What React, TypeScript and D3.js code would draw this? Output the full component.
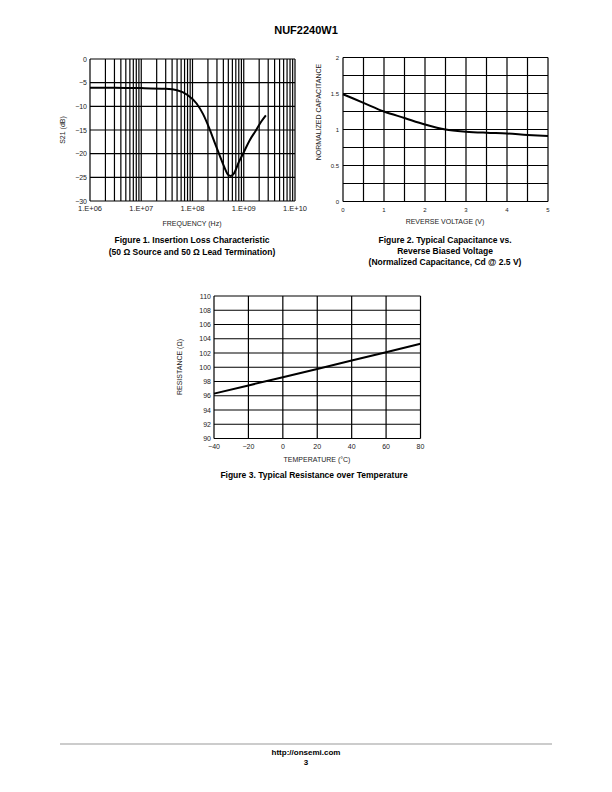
import React from "react";
import * as d3 from "d3";

// Figure 1 data
const freqHz = [1e6, 3e6, 1e7, 3e7, 5e7, 8e7, 1.2e8, 1.6e8, 2.1e8, 2.7e8, 3.4e8, 4.2e8, 5e8, 5.6e8, 6.5e8, 8e8, 1e9, 1.3e9, 1.7e9, 2.2e9, 2.7e9];
const s21dB = [-6.05, -6.1, -6.15, -6.3, -6.6, -7.6, -9.4, -11.6, -14.5, -17.6, -20.4, -22.9, -24.5, -24.7, -24.1, -21.8, -19.7, -17.2, -15.2, -13.2, -11.9];
const fig1XTicks = ["1.E+06", "1.E+07", "1.E+08", "1.E+09", "1.E+10"];
const fig1YTicks = [0, -5, -10, -15, -20, -25, -30];

// Figure 2 data
const reverseV = [0, 0.5, 1, 1.5, 2, 2.5, 3, 3.5, 4, 4.5, 5];
const normCap = [1.49, 1.37, 1.25, 1.16, 1.07, 1.0, 0.97, 0.955, 0.945, 0.925, 0.91];
const fig2XTicks = [0, 1, 2, 3, 4, 5];
const fig2YTicks = [0, 0.5, 1, 1.5, 2];

// Figure 3 data
const tempC = [-40, -20, 0, 20, 40, 60, 80];
const resOhm = [96.3, 97.45, 98.6, 99.75, 100.95, 102.1, 103.3];
const fig3XTicks = [-40, -20, 0, 20, 40, 60, 80];
const fig3YTicks = [90, 92, 94, 96, 98, 100, 102, 104, 106, 108, 110];

const FONT = "'Liberation Sans', Arial, Helvetica, sans-serif";
const fmt = (v: number) => (v < 0 ? "\u2212" + Math.abs(v) : String(v));
const INK = "#000";
const LABEL = "#222";

function Fig1() {
  const x = d3.scaleLog().domain([1e6, 1e10]).range([90, 295]);
  const y = d3.scaleLinear().domain([-30, 0]).range([201, 59]);
  const vLines: number[] = [];
  for (let e = 6; e < 10; e++) for (let k = 1; k <= 9; k++) vLines.push(k * Math.pow(10, e));
  vLines.push(1e10);
  const line = d3
    .line<number>()
    .x((_, i) => x(freqHz[i]))
    .y((d) => y(d))
    .curve(d3.curveMonotoneX);
  return (
    <g>
      {vLines.map((f, i) => (
        <line key={"v" + i} x1={x(f)} x2={x(f)} y1={y(0)} y2={y(-30)} stroke={INK} strokeWidth={1.2} />
      ))}
      {fig1YTicks.map((t) => (
        <line key={"h" + t} x1={x(1e6)} x2={x(1e10)} y1={y(t)} y2={y(t)} stroke={INK} strokeWidth={1.2} />
      ))}
      <path d={line(s21dB) || ""} fill="none" stroke={INK} strokeWidth={2} />
      {fig1YTicks.map((t) => (
        <text key={"yl" + t} x={87} y={y(t) + 2.5} fontSize={7} textAnchor="end" fontFamily={FONT} fill={LABEL}>
          {fmt(t)}
        </text>
      ))}
      {fig1XTicks.map((t, i) => (
        <text key={"xl" + t} x={x(Math.pow(10, 6 + i))} y={211} fontSize={7.5} textAnchor="middle" fontFamily={FONT} fill={LABEL}>
          {t}
        </text>
      ))}
      <text x={192} y={226} fontSize={7} textAnchor="middle" fontFamily={FONT} fill={LABEL}>
        FREQUENCY (Hz)
      </text>
      <text transform="translate(65,130) rotate(-90)" fontSize={7} textAnchor="middle" fontFamily={FONT} fill={LABEL}>
        S21 (dB)
      </text>
      <text x={192} y={243} fontSize={8.5} fontWeight="bold" textAnchor="middle" fontFamily={FONT} fill={INK}>
        Figure 1. Insertion Loss Characteristic
      </text>
      <text x={192} y={255} fontSize={8.5} fontWeight="bold" textAnchor="middle" fontFamily={FONT} fill={INK}>
        (50 Ω Source and 50 Ω Lead Termination)
      </text>
    </g>
  );
}

function Fig2() {
  const x = d3.scaleLinear().domain([0, 5]).range([343, 548]);
  const y = d3.scaleLinear().domain([0, 2]).range([201.5, 57.5]);
  const vGrid = d3.range(0, 5.01, 0.5);
  const hGrid = d3.range(0, 2.01, 0.25);
  const line = d3
    .line<number>()
    .x((_, i) => x(reverseV[i]))
    .y((d) => y(d))
    .curve(d3.curveMonotoneX);
  return (
    <g>
      {vGrid.map((v) => (
        <line key={"v" + v} x1={x(v)} x2={x(v)} y1={y(0)} y2={y(2)} stroke={INK} strokeWidth={1.2} />
      ))}
      {hGrid.map((v) => (
        <line key={"h" + v} x1={x(0)} x2={x(5)} y1={y(v)} y2={y(v)} stroke={INK} strokeWidth={1.2} />
      ))}
      <path d={line(normCap) || ""} fill="none" stroke={INK} strokeWidth={2} />
      {fig2YTicks.map((t) => (
        <text key={"yl" + t} x={339} y={y(t) + 2} fontSize={6} textAnchor="end" fontFamily={FONT} fill={LABEL}>
          {t}
        </text>
      ))}
      {fig2XTicks.map((t) => (
        <text key={"xl" + t} x={x(t)} y={212} fontSize={6} textAnchor="middle" fontFamily={FONT} fill={LABEL}>
          {t}
        </text>
      ))}
      <text x={445} y={224} fontSize={7} textAnchor="middle" fontFamily={FONT} fill={LABEL}>
        REVERSE VOLTAGE (V)
      </text>
      <text transform="translate(321,112) rotate(-90)" fontSize={7} textAnchor="middle" fontFamily={FONT} fill={LABEL}>
        NORMALIZED CAPACITANCE
      </text>
      <text x={445} y={243} fontSize={8.5} fontWeight="bold" textAnchor="middle" fontFamily={FONT} fill={INK}>
        Figure 2. Typical Capacitance vs.
      </text>
      <text x={445} y={254} fontSize={8.5} fontWeight="bold" textAnchor="middle" fontFamily={FONT} fill={INK}>
        Reverse Biased Voltage
      </text>
      <text x={445} y={265} fontSize={8.5} fontWeight="bold" textAnchor="middle" fontFamily={FONT} fill={INK}>
        (Normalized Capacitance, Cd @ 2.5 V)
      </text>
    </g>
  );
}

function Fig3() {
  const x = d3.scaleLinear().domain([-40, 80]).range([214, 420.5]);
  const y = d3.scaleLinear().domain([90, 110]).range([438.5, 296]);
  const line = d3
    .line<number>()
    .x((_, i) => x(tempC[i]))
    .y((d) => y(d));
  return (
    <g>
      {fig3XTicks.map((v) => (
        <line key={"v" + v} x1={x(v)} x2={x(v)} y1={y(90)} y2={y(110)} stroke={INK} strokeWidth={1.2} />
      ))}
      {fig3YTicks.map((v) => (
        <line key={"h" + v} x1={x(-40)} x2={x(80)} y1={y(v)} y2={y(v)} stroke={INK} strokeWidth={1.2} />
      ))}
      <path d={line(resOhm) || ""} fill="none" stroke={INK} strokeWidth={2} />
      {fig3YTicks.map((t) => (
        <text key={"yl" + t} x={211} y={y(t) + 2.5} fontSize={7} textAnchor="end" fontFamily={FONT} fill={LABEL}>
          {t}
        </text>
      ))}
      {fig3XTicks.map((t) => (
        <text key={"xl" + t} x={x(t)} y={449} fontSize={7} textAnchor="middle" fontFamily={FONT} fill={LABEL}>
          {fmt(t)}
        </text>
      ))}
      <text x={317} y={462} fontSize={7} textAnchor="middle" fontFamily={FONT} fill={LABEL}>
        TEMPERATURE (°C)
      </text>
      <text transform="translate(182,367) rotate(-90)" fontSize={7} textAnchor="middle" fontFamily={FONT} fill={LABEL}>
        RESISTANCE (Ω)
      </text>
      <text x={314} y={478} fontSize={8.5} fontWeight="bold" textAnchor="middle" fontFamily={FONT} fill={INK}>
        Figure 3. Typical Resistance over Temperature
      </text>
    </g>
  );
}

export default function App() {
  return (
    <svg
      width={612}
      height={792}
      viewBox="0 0 612 792"
      style={{ position: "absolute", left: 0, top: 0, background: "#fff" }}
    >
      <rect x={0} y={0} width={612} height={792} fill="#fff" />
      <text x={306} y={34} fontSize={11} fontWeight="bold" textAnchor="middle" fontFamily={FONT} fill={INK}>
        NUF2240W1
      </text>
      <Fig1 />
      <Fig2 />
      <Fig3 />
      <line x1={60} x2={552} y1={744} y2={744} stroke="#999" strokeWidth={1} />
      <text x={306} y={755} fontSize={8} fontWeight="bold" textAnchor="middle" fontFamily={FONT} fill={INK}>
        http://onsemi.com
      </text>
      <text x={306} y={765} fontSize={8} fontWeight="bold" textAnchor="middle" fontFamily={FONT} fill={INK}>
        3
      </text>
    </svg>
  );
}
